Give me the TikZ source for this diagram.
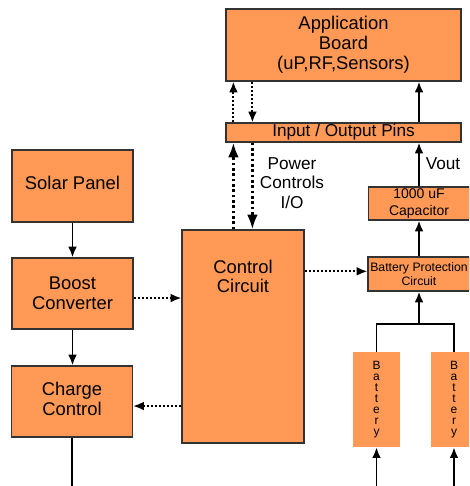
\documentclass[tikz,border=0pt]{standalone}
\usepackage{fontspec}
\setmainfont{Liberation Sans}
\usetikzlibrary{arrows.meta}
\definecolor{boxorange}{HTML}{FF9955}
\definecolor{boxline}{HTML}{333333}
\newcommand{\px}{0.75pt}
\tikzset{
  block/.style={draw=boxline, line width=0.9pt, fill=boxorange, inner sep=0pt, align=center, font=\fontsize{13.8}{15}\selectfont},
  cell/.style={fill=boxorange, inner sep=0pt, align=center, font=\fontsize{9}{8.2}\selectfont},
  wire/.style={line width=1.4pt, -{Latex[length=8pt,width=6.5pt]}},
  sig/.style={line width=1.4pt, dash pattern=on 1.5pt off 1.5pt, -{Latex[length=8pt,width=6.5pt]}},
  bigsig/.style={line width=2pt, dash pattern=on 2pt off 2pt, -{Latex[length=11pt,width=8pt]}},
}

\begin{document}
\begin{tikzpicture}[x=0.75pt, y=-0.75pt]
  \path[use as bounding box, clip] (0,0) rectangle (469,486);
  % left column
  \node[block, minimum width=121*\px, minimum height=72*\px] (solar) at (72.5,186) {};
  \node[inner sep=0pt, font=\fontsize{13.8}{15}\selectfont] (solartxt) at (72.5,183) {Solar Panel};
  \node[block, minimum width=121*\px, minimum height=71*\px] (boost) at (72.5,293.5) {Boost\\Converter};
  \node[block, minimum width=121*\px, minimum height=71*\px] (charge) at (72,401.5) {};
  \node[align=center, inner sep=0pt, font=\fontsize{13.8}{15}\selectfont] (chgtxt) at (72,398.5) {Charge\\Control};
  \coordinate (chgend) at (72,486);
  % controller
  \node[block, minimum width=122*\px, minimum height=213*\px] (ctrl) at (243,336.5) {};
  \node[align=center, inner sep=0pt, font=\fontsize{13.8}{14.3}\selectfont] (ctrltxt) at (243,276) {Control\\Circuit};
  % application side
  \node[block, minimum width=235*\px, minimum height=72*\px] (app) at (343.5,45) {Application\\Board\\(uP,RF,Sensors)};
  \node[block, minimum width=235*\px, minimum height=19*\px, font=\fontsize{12.9}{14}\selectfont] (io) at (343.5,132.5) {Input / Output Pins};
  \node[block, minimum width=101*\px, minimum height=33*\px, font=\fontsize{10.5}{12.5}\selectfont] (cap) at (419,203.5) {1000 uF\\Capacitor};
  \node[block, minimum width=102*\px, minimum height=34*\px, font=\fontsize{9.2}{10.5}\selectfont] (prot) at (419,274) {Battery Protection\\Circuit};
  \node[cell, minimum width=47*\px, minimum height=95*\px] (bat1) at (376.5,399.5) {B\\a\\t\\t\\e\\r\\y};
  \node[cell, minimum width=47*\px, minimum height=95*\px] (bat2) at (454,399.5) {B\\a\\t\\t\\e\\r\\y};
  \coordinate (fork) at (419,324);
  \coordinate (in1) at (376.5,486);
  \coordinate (in2) at (454,486);
  \node[align=center, inner sep=0pt, font=\fontsize{12.9}{14.6}\selectfont] (pwr) at (292,183) {Power\\Controls\\I/O};
  \node[inner sep=0pt, font=\fontsize{12.9}{14}\selectfont] (vout) at (443,164) {Vout};
  % connectors
  \draw[wire] (solar) -- (boost);
  \draw[wire] (boost.south) -- (boost.south |- charge.north);
  \draw[line width=1.4pt] (charge.south) -- (chgend);
  \draw[sig] ([yshift=-3.4pt]boost.east) -- ([yshift=-3.4pt]boost.east -| ctrl.west);
  \draw[sig] ([yshift=-3.4pt]charge.east -| ctrl.west) -- ([yshift=-3.4pt]charge.east);
  \draw[sig] ([yshift=2pt]prot.west -| ctrl.east) -- ([yshift=2pt]prot.west);
  \draw[sig] ([xshift=6pt]io.north west) -- ([xshift=6pt]app.south west);
  \draw[sig] ([xshift=20.25pt]app.south west) -- ([xshift=20.25pt]io.north west);
  \draw[bigsig] ([xshift=6pt]io.south west |- ctrl.north) -- ([xshift=6pt]io.south west);
  \draw[bigsig] ([xshift=20.25pt]io.south west) -- ([xshift=20.25pt]io.south west |- ctrl.north);
  \draw[wire] (cap.north) -- (cap.north |- io.south);
  \draw[wire] (cap.north |- io.north) -- (cap.north |- app.south);
  \draw[wire] (prot.north) -- (cap.south);
  \draw[line width=1.4pt] (bat1.north) |- (fork) -| (bat2.north);
  \draw[wire] (fork) -- (prot.south);
  \draw[wire] (in1) -- (bat1.south);
  \draw[wire] (in2) -- (bat2.south);
\end{tikzpicture}
\end{document}
